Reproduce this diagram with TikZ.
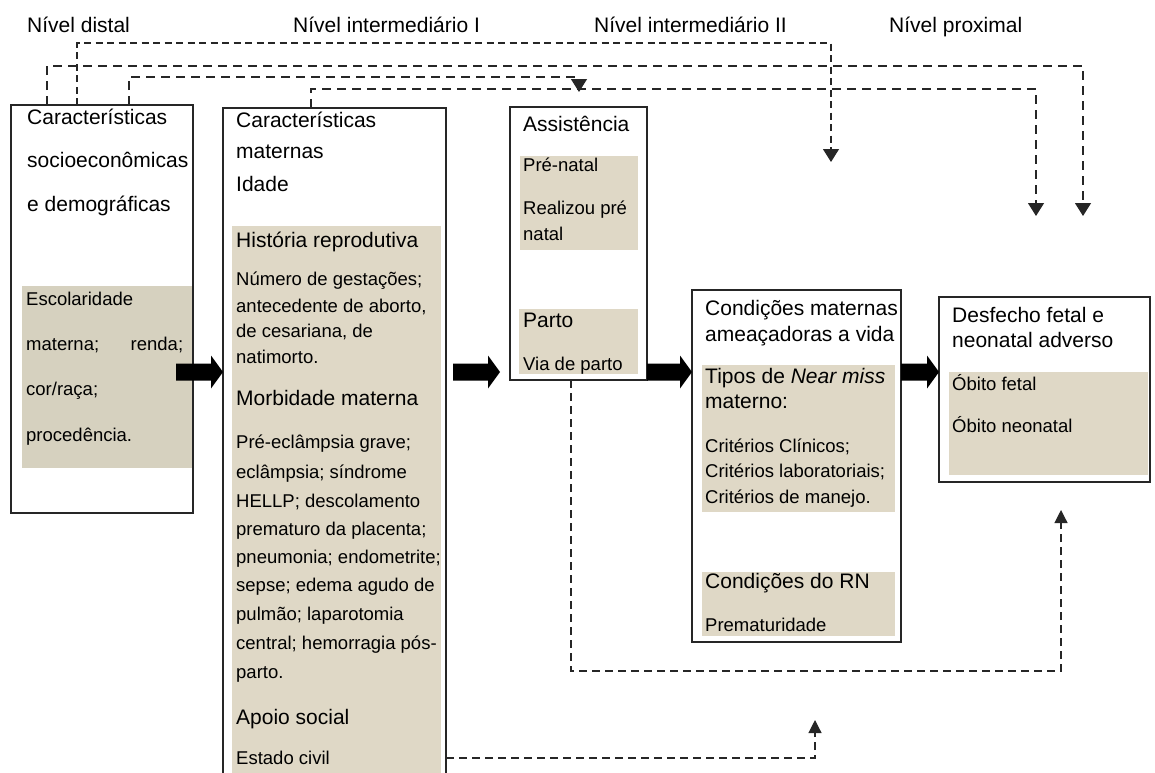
\documentclass[tikz,border=0pt]{standalone}
\usepackage{fontspec}
\setmainfont{Liberation Sans}
\usetikzlibrary{arrows.meta,calc}
\definecolor{shadeA}{RGB}{214,209,191}
\definecolor{shadeB}{RGB}{223,216,198}
\newcommand\hsz{\fontsize{21}{25}\selectfont}
\newcommand\bsz{\fontsize{18.5}{22}\selectfont}
\newcommand\blockarr[2]{\fill[black] ($(#1)+(0,-8.5)$) -- ($(#2)+(-12,-8.5)$) -- ($(#2)+(-12,-16.5)$) -- (#2) -- ($(#2)+(-12,16.5)$) -- ($(#2)+(-12,8.5)$) -- ($(#1)+(0,8.5)$) -- cycle;}
\begin{document}
\begin{tikzpicture}[x=1pt,y=-1pt,
  frame/.style={draw=black!85, line width=1.1pt, fill=none, inner sep=0pt, outer sep=0pt, anchor=north west},
  shd/.style={fill=shadeB, draw=none, inner sep=0pt, outer sep=0pt, anchor=north west},
  hd/.style={anchor=base west, inner sep=0pt, font=\hsz},
  sm/.style={anchor=base west, inner sep=0pt, font=\bsz},
  dsh/.style={draw=black!85, line width=1.2pt, dash pattern=on 9pt off 6pt},
  arrdown/.style={-{Triangle[length=13pt,width=16pt]}},
  arrup/.style={-{Triangle[length=13pt,width=13pt]}}]
\useasboundingbox (0,0) rectangle (1155,772);

% level titles
\node[hd] (n1) at (27,32) {Nível distal};
\node[hd] (n2) at (293,32) {Nível intermediário I};
\node[hd] (n3) at (594,32) {Nível intermediário II};
\node[hd] (n4) at (889,32) {Nível proximal};

% shaded areas
\node[shd, fill=shadeA, minimum width=171pt, minimum height=182pt] (s1) at (22,286) {};
\node[shd, minimum width=209pt, minimum height=560pt] (s2) at (232,226) {};
\node[shd, minimum width=118pt, minimum height=94pt] (s3a) at (520,156) {};
\node[shd, minimum width=119pt, minimum height=65pt] (s3b) at (519,309) {};
\node[shd, minimum width=193pt, minimum height=147pt] (s4a) at (702,365) {};
\node[shd, minimum width=193pt, minimum height=64pt] (s4b) at (702,572) {};
\node[shd, minimum width=199pt, minimum height=103pt] (s5) at (949,372) {};

% frames
\node[frame, minimum width=182pt, minimum height=408pt] (b1) at (11,105) {};
\node[frame, minimum width=223pt, minimum height=680pt] (b2) at (223,108) {};
\node[frame, minimum width=137pt, minimum height=273pt] (b3) at (510,107) {};
\node[frame, minimum width=209pt, minimum height=352pt] (b4) at (692,290) {};
\node[frame, minimum width=211pt, minimum height=185pt] (b5) at (939,297) {};

% box 1
\node[hd] (t11) at (27,124) {Características};
\node[hd] (t12) at (27,167) {socioeconômicas};
\node[hd] (t13) at (27,211) {e demográficas};
\node[sm] (t14) at (26,305) {Escolaridade};
\node[sm] (t15) at (26,350) {\hbox to 157pt{materna;\hfill renda;}};
\node[sm] (t16) at (26,395) {cor/raça;};
\node[sm] (t17) at (26,441) {procedência.};

% box 2
\node[hd] (t21) at (236,127) {Características};
\node[hd] (t22) at (236,158) {maternas};
\node[hd] (t23) at (236,191) {Idade};
\node[hd] (t24) at (236,247) {História reprodutiva};
\node[sm] (t25) at (236,285) {Número de gestações;};
\node[sm] (t26) at (236,312) {antecedente de aborto,};
\node[sm] (t27) at (236,337) {de cesariana, de};
\node[sm] (t28) at (236,363) {natimorto.};
\node[hd] (t29) at (236,405) {Morbidade materna};
\node[sm] (t30) at (236,448) {Pré-eclâmpsia grave;};
\node[sm] (t31) at (236,478) {eclâmpsia; síndrome};
\node[sm] (t32) at (236,507) {HELLP; descolamento};
\node[sm] (t33) at (236,535) {prematuro da placenta;};
\node[sm] (t34) at (236,563) {pneumonia; endometrite;};
\node[sm] (t35) at (236,591) {sepse; edema agudo de};
\node[sm] (t36) at (236,620) {pulmão; laparotomia};
\node[sm] (t37) at (236,649) {central; hemorragia pós-};
\node[sm] (t38) at (236,678) {parto.};
\node[hd] (t39) at (236,724) {Apoio social};
\node[sm] (t40) at (236,764) {Estado civil};

% box 3
\node[hd] (t41) at (523,131) {Assistência};
\node[sm] (t42) at (523,171) {Pré-natal};
\node[sm] (t43) at (523,214) {Realizou pré};
\node[sm] (t44) at (523,240) {natal};
\node[hd] (t45) at (523,327) {Parto};
\node[sm] (t46) at (523,370) {Via de parto};

% box 4
\node[hd] (t51) at (705,315) {Condições maternas};
\node[hd] (t52) at (705,341) {ameaçadoras a vida};
\node[hd] (t53) at (705,383) {Tipos de \textit{Near miss}};
\node[hd] (t54) at (705,408) {materno:};
\node[sm] (t55) at (705,452) {Critérios Clínicos;};
\node[sm] (t56) at (705,477) {Critérios laboratoriais;};
\node[sm] (t57) at (705,503) {Critérios de manejo.};
\node[hd] (t58) at (705,588) {Condições do RN};
\node[sm] (t59) at (705,631) {Prematuridade};

% box 5
\node[hd] (t61) at (952,322) {Desfecho fetal e};
\node[hd] (t62) at (952,347) {neonatal adverso};
\node[sm] (t63) at (952,390) {Óbito fetal};
\node[sm] (t64) at (952,432) {Óbito neonatal};

% block arrows
\coordinate (a1s) at (176,372);
\coordinate (a1e) at (b2.west |- a1s);
\coordinate (a2s) at (453,372);
\coordinate (a2e) at (500,372);
\coordinate (a3s) at (b3.east |- a1s);
\coordinate (a3e) at (b4.west |- a1s);
\coordinate (a4s) at (b4.east |- a1s);
\coordinate (a4e) at (b5.west |- a1s);
\blockarr{a1s}{a1e}
\blockarr{a2s}{a2e}
\blockarr{a3s}{a3e}
\blockarr{a4s}{a4e}

% dashed connectors
\coordinate (e1) at (831,162);
\coordinate (e2) at (1083,216);
\coordinate (e3) at (579,92);
\coordinate (e4) at (1036,216);
\coordinate (e5) at (1061,510);
\coordinate (e6) at (815,720);
\draw[dsh, dash pattern=on 7pt off 4.5pt, arrdown] ($(b1.north west)+(66,0)$) -- ++(0,-62) -| (e1);
\draw[dsh, arrdown] ($(b1.north west)+(36,0)$) -- ++(0,-39) -| (e2);
\draw[dsh, arrdown] ($(b1.north west)+(118,0)$) -- ++(0,-28) -| (e3);
\draw[dsh, arrdown] ($(b2.north west)+(88,0)$) -- ++(0,-19) -| (e4);
\draw[dsh, dash pattern=on 8pt off 5pt, arrup] ($(b3.south west)+(61,0)$) -- ++(0,291) -| (e5);
\draw[dsh, dash pattern=on 8pt off 5pt, arrup] (b2.east |- 0,758) -| (e6);
\end{tikzpicture}
\end{document}
